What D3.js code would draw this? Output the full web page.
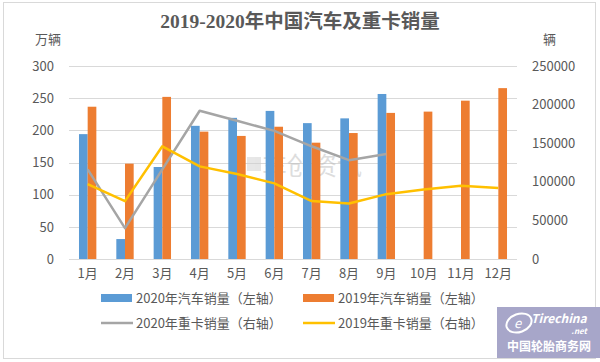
<!DOCTYPE html>
<html>
<head>
<meta charset="utf-8">
<script src="https://cdn.jsdelivr.net/npm/d3@7"></script>
<style>
  body { margin: 0; background: #fff; }
  svg text { font-family: "Noto Sans CJK SC", "Noto Sans", sans-serif; }
</style>
</head>
<body>
<div id="chart"></div>
<script>
// data
const months = ["1月", "2月", "3月", "4月", "5月", "6月", "7月", "8月", "9月", "10月", "11月", "12月"];
const cars2020 = [194.1, 31.0, 143.0, 207.0, 219.4, 230.2, 211.2, 218.6, 256.5];
const cars2019 = [236.7, 148.2, 252.0, 198.0, 191.3, 205.6, 180.8, 195.8, 227.1, 229.1, 246.1, 265.6];
const trucks2020 = [116000, 40000, 116000, 192000, 179000, 166000, 146000, 128000, 136000];
const trucks2019 = [97000, 75000, 146000, 120000, 110000, 98000, 75000, 72000, 84000, 90000, 95000, 92000];
const leftTicks = [0, 50, 100, 150, 200, 250, 300];
const rightTicks = [0, 50000, 100000, 150000, 200000, 250000];

const W = 600, H = 362;
const margin = {top: 66, right: 83, bottom: 103, left: 69};
const width = W - margin.left - margin.right;
const height = H - margin.top - margin.bottom;

const svg = d3.select("#chart").append("svg")
    .attr("width", W)
    .attr("height", H);

// outer frame
svg.append("rect")
    .attr("x", 3.5).attr("y", 2.5)
    .attr("width", 592).attr("height", 356)
    .attr("fill", "#fff")
    .attr("stroke", "#d9d9d9");

svg.append("text")
    .attr("x", W / 2).attr("y", 28)
    .attr("text-anchor", "middle")
    .attr("fill", "#595959")
    .attr("font-size", 19.5)
    .attr("font-weight", "bold")
    .style("font-family", "'Liberation Serif', 'Noto Sans CJK SC', serif")
    .text("2019-2020年中国汽车及重卡销量");

svg.append("text")
    .attr("x", 35).attr("y", 44)
    .attr("fill", "#595959").attr("font-size", 13)
    .text("万辆");

svg.append("text")
    .attr("x", 543).attr("y", 44)
    .attr("fill", "#595959").attr("font-size", 13)
    .text("辆");

const g = svg.append("g")
    .attr("transform", "translate(" + margin.left + "," + margin.top + ")");

// scales
const x = d3.scaleBand().domain(months).range([0, width]);
const groupW = x.bandwidth() * 0.465;
const x1 = d3.scaleBand().domain(["2020", "2019"]).range([0, groupW]);
const yL = d3.scaleLinear().domain([0, 300]).range([height, 0]);
const yR = d3.scaleLinear().domain([0, 250000]).range([height, 0]);

// gridlines
g.append("g")
    .selectAll("line")
    .data(leftTicks)
    .join("line")
    .attr("x1", 0).attr("x2", width)
    .attr("y1", d => Math.round(yL(d)) + 0.5)
    .attr("y2", d => Math.round(yL(d)) + 0.5)
    .attr("stroke", "#d9d9d9");

// axes
const yAxisL = g.append("g")
    .call(d3.axisLeft(yL).tickValues(leftTicks).tickSize(0).tickPadding(15));
const yAxisR = g.append("g")
    .attr("transform", "translate(" + width + ",0)")
    .call(d3.axisRight(yR).tickValues(rightTicks).tickSize(0).tickPadding(15).tickFormat(d3.format("d")));
const xAxis = g.append("g")
    .attr("transform", "translate(0," + height + ")")
    .call(d3.axisBottom(x).tickSize(0).tickPadding(10));

[yAxisL, yAxisR, xAxis].forEach(a => {
    a.select(".domain").remove();
    a.selectAll("text")
        .attr("fill", "#595959")
        .attr("font-size", 13)
        .style("font-family", "'Noto Sans CJK SC', 'Noto Sans', sans-serif");
});

// faint watermark behind the bars
const wm = g.append("g").attr("opacity", 0.5);
wm.append("rect")
    .attr("x", 178).attr("y", 91).attr("width", 14).attr("height", 14)
    .attr("fill", "#cfcfcf");
wm.append("text")
    .attr("x", 193).attr("y", 109)
    .attr("fill", "#bdbdbd").attr("font-size", 25)
    .text("车创资讯");

// bars
g.append("g")
    .selectAll("rect")
    .data(cars2020)
    .join("rect")
    .attr("x", (d, i) => x(months[i]) + (x.bandwidth() - groupW) / 2 + x1("2020"))
    .attr("y", d => yL(d))
    .attr("width", x1.bandwidth())
    .attr("height", d => height - yL(d))
    .attr("fill", "#5b9bd5");

g.append("g")
    .selectAll("rect")
    .data(cars2019)
    .join("rect")
    .attr("x", (d, i) => x(months[i]) + (x.bandwidth() - groupW) / 2 + x1("2019"))
    .attr("y", d => yL(d))
    .attr("width", x1.bandwidth())
    .attr("height", d => height - yL(d))
    .attr("fill", "#ed7d31");

// lines
const line = d3.line()
    .x((d, i) => x(months[i]) + x.bandwidth() / 2)
    .y(d => yR(d));

g.append("path")
    .datum(trucks2020)
    .attr("d", line)
    .attr("fill", "none")
    .attr("stroke", "#a5a5a5")
    .attr("stroke-width", 2.5)
    .attr("stroke-linejoin", "round");

g.append("path")
    .datum(trucks2019)
    .attr("d", line)
    .attr("fill", "none")
    .attr("stroke", "#ffc000")
    .attr("stroke-width", 2.5)
    .attr("stroke-linejoin", "round");

// legend
const legendItems = [
    {label: "2020年汽车销量（左轴）", color: "#5b9bd5", type: "bar", x: 101, y: 298},
    {label: "2019年汽车销量（左轴）", color: "#ed7d31", type: "bar", x: 303, y: 298},
    {label: "2020年重卡销量（右轴）", color: "#a5a5a5", type: "line", x: 101, y: 323},
    {label: "2019年重卡销量（右轴）", color: "#ffc000", type: "line", x: 303, y: 323}
];

const legend = svg.append("g")
    .selectAll("g")
    .data(legendItems)
    .join("g")
    .attr("transform", d => "translate(" + d.x + "," + d.y + ")");

legend.filter(d => d.type === "bar").append("rect")
    .attr("x", 0).attr("y", -4)
    .attr("width", 31).attr("height", 8)
    .attr("fill", d => d.color);

legend.filter(d => d.type === "line").append("line")
    .attr("x1", 0).attr("x2", 32)
    .attr("stroke", d => d.color)
    .attr("stroke-width", 2.5);

legend.append("text")
    .attr("x", 35).attr("y", 0)
    .attr("dy", "0.35em")
    .attr("fill", "#595959")
    .attr("font-size", 13)
    .text(d => d.label);

// site badge, bottom right
const badge = svg.append("g").attr("transform", "translate(497,307)");
badge.append("rect")
    .attr("width", 103).attr("height", 51)
    .attr("fill", "#a7a6c9");
badge.append("ellipse")
    .attr("cx", 22).attr("cy", 16).attr("rx", 13).attr("ry", 9)
    .attr("fill", "none").attr("stroke", "#fff").attr("stroke-width", 2)
    .attr("transform", "rotate(-20,22,16)");
badge.append("text")
    .attr("x", 17).attr("y", 21)
    .attr("fill", "#fff").attr("font-size", 13).attr("font-style", "italic")
    .text("e");
badge.append("text")
    .attr("x", 34).attr("y", 16)
    .attr("fill", "#fff").attr("font-size", 12).attr("font-weight", "bold").attr("font-style", "italic")
    .text("Tirechina");
badge.append("text")
    .attr("x", 90).attr("y", 27)
    .attr("text-anchor", "end")
    .attr("fill", "#fff").attr("font-size", 8).attr("font-weight", "bold").attr("font-style", "italic")
    .text(".net");
badge.append("text")
    .attr("x", 52).attr("y", 44)
    .attr("text-anchor", "middle")
    .attr("fill", "#fff").attr("font-size", 12).attr("font-weight", "bold")
    .text("中国轮胎商务网");
</script>
</body>
</html>
